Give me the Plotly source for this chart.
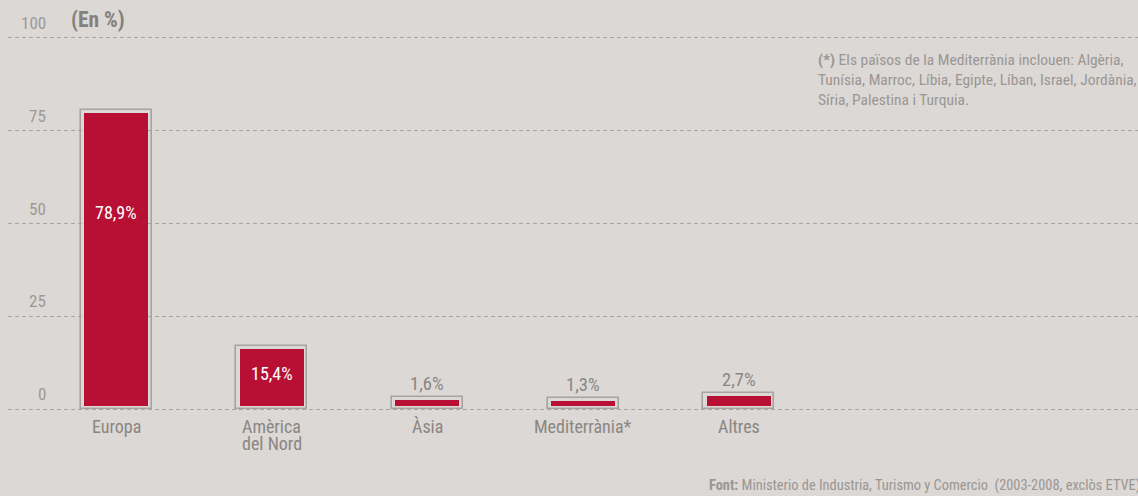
import plotly.graph_objects as go

categories = ["Europa", "Amèrica<br>del Nord", "Àsia", "Mediterrània*", "Altres"]
values = [78.9, 15.4, 1.6, 1.3, 2.7]
value_labels = ["78,9%", "15,4%", "1,6%", "1,3%", "2,7%"]
y_ticks = [0, 25, 50, 75, 100]

BG = "#dcd8d5"
RED = "#b80f35"
GRAY_TXT = "#8a8683"
FONT = "Roboto Condensed, Liberation Sans Narrow, sans-serif"
W = 400

RED_BASE = 0.8
BOX_PAD = 1.7

x = list(range(len(categories)))

fig = go.Figure()
fig.add_trace(go.Bar(
    x=x, y=[v + BOX_PAD for v in values], width=0.456,
    marker=dict(color="rgba(0,0,0,0)", line=dict(color="#a7a3a0", width=1.6)),
    hoverinfo="skip", showlegend=False,
))
fig.add_trace(go.Bar(
    x=x, y=values, base=RED_BASE, width=0.411,
    marker=dict(color=RED, line=dict(width=0)),
    showlegend=False,
))

annotations = []
# category labels (one annotation per line for tight line spacing)
for i, cat in enumerate(categories):
    for j, line in enumerate(cat.split("<br>")):
        annotations.append(dict(x=i, y=0, xref="x", yref="y", text=line, showarrow=False,
                                xanchor="center", yanchor="top", yshift=-5 - 16.7 * j,
                                font=dict(family=FONT, size=18, weight=W, color=GRAY_TXT)))
# value labels
inside_y = {0: 53.0, 1: 9.7}
for i, (v, lab) in enumerate(zip(values, value_labels)):
    if i in inside_y:
        annotations.append(dict(x=i, y=inside_y[i], xref="x", yref="y", text=lab,
                                showarrow=False,
                                font=dict(family=FONT, size=18, weight=W, color="white")))
    else:
        annotations.append(dict(x=i, y=v + BOX_PAD, xref="x", yref="y", text=lab,
                                showarrow=False, yanchor="bottom", yshift=0,
                                font=dict(family=FONT, size=18.5, weight=W, color=GRAY_TXT)))
# y tick labels above gridlines
for t in y_ticks:
    annotations.append(dict(x=(48 - 8) / 1130, y=t, xref="paper", yref="y", text=str(t),
                            showarrow=False, xanchor="right", yanchor="middle", yshift=15,
                            font=dict(family=FONT, size=17, weight=W, color="#9c9895")))
annotations.append(dict(x=(69 - 8) / 1130, y=100, xref="paper", yref="y", text="<b>(En %)</b>",
                        showarrow=False, xanchor="left", yanchor="middle", yshift=18,
                        font=dict(family=FONT, size=21.5, color="#84807d")))
annotations.append(dict(x=(816 - 8) / 1130, y=1, xref="paper", yref="paper",
                        text="<b>(*)</b> Els països de la Mediterrània inclouen: Algèria,<br>"
                             "Tunísia, Marroc, Líbia, Egipte, Líban, Israel, Jordània,<br>"
                             "Síria, Palestina i Turquia.",
                        showarrow=False, xanchor="left", yanchor="top", align="left", yshift=-13,
                        font=dict(family=FONT, size=15.5, weight=W, color="#9a9693")))
annotations.append(dict(x=(707 - 8) / 1130, y=0, xref="paper", yref="paper",
                        text="<b>Font:</b> Ministerio de Industria, Turismo y Comercio  (2003-2008, exclòs ETVE)",
                        showarrow=False, xanchor="left", yanchor="middle", yshift=-74,
                        font=dict(family=FONT, size=14.4, weight=W, color="#9a9693")))

fig.update_layout(
    width=1138, height=496,
    margin=dict(l=8, r=0, t=36, b=85),
    paper_bgcolor=BG, plot_bgcolor=BG,
    barmode="overlay", bargap=0,
    font=dict(family=FONT, color=GRAY_TXT),
    annotations=annotations,
    xaxis=dict(range=[-0.694, 6.563], tickvals=x, showticklabels=False,
               showgrid=False, zeroline=False, showline=False, ticks="", fixedrange=True),
    yaxis=dict(range=[-0.5, 100.5], tickvals=y_ticks, showticklabels=False,
               showgrid=True, gridcolor="#a8a4a1", gridwidth=1, griddash="4px,3px",
               zeroline=False, showline=False, fixedrange=True),
)

fig.write_html("out.html", config={"displayModeBar": False},
               post_script="document.body.style.margin='0';document.body.style.background='%s';" % BG)
